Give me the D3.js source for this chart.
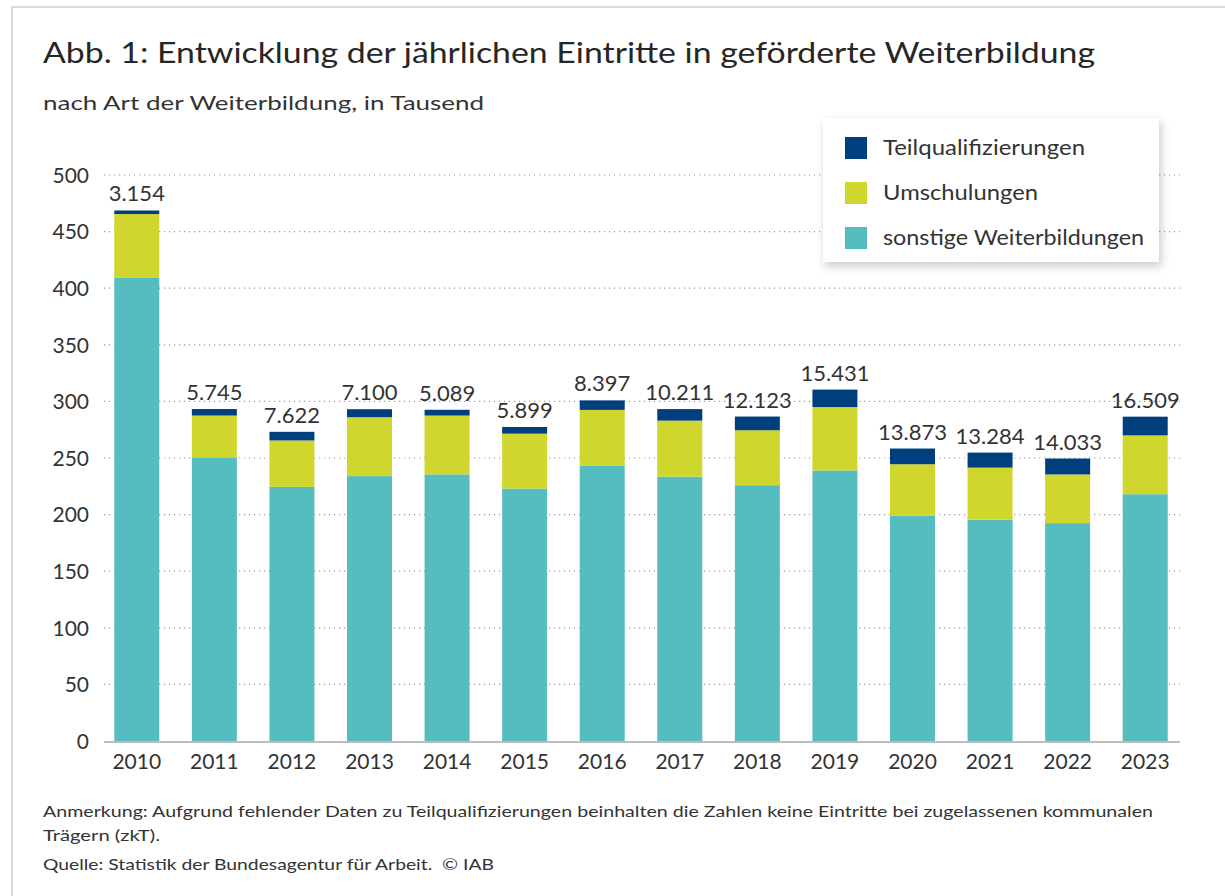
<!DOCTYPE html>
<html>
<head>
<meta charset="utf-8">
<script src="https://d3js.org/d3.v7.min.js"></script>
<style>
  body { margin: 0; background: #fff; }
  svg { display: block; font-family: Lato, "Open Sans", sans-serif; }
</style>
</head>
<body>
<div id="chart"></div>
<script>
// Daten (in Tausend)
var years = ["2010", "2011", "2012", "2013", "2014", "2015", "2016", "2017", "2018", "2019", "2020", "2021", "2022", "2023"];
var sonstige = [409.5, 250, 224.5, 234, 235.5, 223, 243, 233.5, 226, 239, 199, 195.5, 192.5, 218];
var umschulungen = [56, 37.5, 41, 52, 52, 48.5, 49.5, 49.5, 48.5, 56, 45.5, 46, 43, 52];
var teilqual = [3.154, 5.745, 7.622, 7.100, 5.089, 5.899, 8.397, 10.211, 12.123, 15.431, 13.873, 13.284, 14.033, 16.509];
var yTicks = [0, 50, 100, 150, 200, 250, 300, 350, 400, 450, 500];
var seriesNames = ["sonstige Weiterbildungen", "Umschulungen", "Teilqualifizierungen"];
var seriesColors = ["#55bdc0", "#cfd72e", "#003f7e"];

var W = 1225, H = 896;
var textColor = "#333";

var svg = d3.select("#chart").append("svg")
    .attr("width", W)
    .attr("height", H);

// Schatten für die Legende
var defs = svg.append("defs");
var filter = defs.append("filter").attr("id", "shadow")
    .attr("x", "-10%").attr("y", "-10%").attr("width", "125%").attr("height", "135%");
filter.append("feDropShadow")
    .attr("dx", 2).attr("dy", 4).attr("stdDeviation", 5)
    .attr("flood-color", "#000").attr("flood-opacity", 0.22);

// Rahmen
svg.append("rect")
    .attr("x", 12).attr("y", 7)
    .attr("width", W + 10).attr("height", H + 10)
    .attr("fill", "none").attr("stroke", "#d0d0d0").attr("stroke-width", 1.5);

// Titel
svg.append("text")
    .attr("x", 43).attr("y", 63)
    .attr("font-size", 29).attr("fill", "#262626")
    .attr("textLength", 1052).attr("lengthAdjust", "spacingAndGlyphs")
    .text("Abb. 1: Entwicklung der jährlichen Eintritte in geförderte Weiterbildung");
svg.append("text")
    .attr("x", 43).attr("y", 110)
    .attr("font-size", 20).attr("fill", textColor)
    .attr("textLength", 441).attr("lengthAdjust", "spacingAndGlyphs")
    .text("nach Art der Weiterbildung, in Tausend");

// Skalen
var x = d3.scaleBand()
    .domain(years)
    .range([98, 1184])
    .paddingInner(0.42)
    .paddingOuter(0.21);

var y = d3.scaleLinear()
    .domain([0, 500])
    .range([741, 175]);

// Gitterlinien
svg.append("g")
    .selectAll("line")
    .data(yTicks.filter(function (d) { return d > 0; }))
    .enter()
    .append("line")
    .attr("x1", 104).attr("x2", 1180)
    .attr("y1", function (d) { return y(d); })
    .attr("y2", function (d) { return y(d); })
    .attr("stroke", "#9a9a9a")
    .attr("stroke-width", 1.2)
    .attr("stroke-dasharray", "1.2,3.8");

// Y-Achse
var yAxis = svg.append("g")
    .attr("transform", "translate(89,0)")
    .call(d3.axisLeft(y).tickValues(yTicks).tickSize(0).tickPadding(0));
yAxis.select(".domain").remove();
yAxis.selectAll("text")
    .attr("font-family", "Lato, sans-serif")
    .attr("font-size", 21)
    .attr("fill", textColor)
    .attr("dy", "0.35em");

// gestapelte Daten
var table = years.map(function (yr, i) {
    return {
        year: yr,
        "sonstige Weiterbildungen": sonstige[i],
        "Umschulungen": umschulungen[i],
        "Teilqualifizierungen": teilqual[i]
    };
});
var stack = d3.stack().keys(seriesNames);
var stacked = stack(table);

svg.append("g")
    .selectAll("g")
    .data(stacked)
    .enter()
    .append("g")
    .attr("fill", function (d, i) { return seriesColors[i]; })
    .selectAll("rect")
    .data(function (d) { return d; })
    .enter()
    .append("rect")
    .attr("x", function (d) { return x(d.data.year); })
    .attr("y", function (d) { return y(d[1]); })
    .attr("width", x.bandwidth())
    .attr("height", function (d) { return y(d[0]) - y(d[1]); });

// X-Achse
svg.append("line")
    .attr("x1", 104).attr("x2", 1180)
    .attr("y1", 742).attr("y2", 742)
    .attr("stroke", "#bdbdbd").attr("stroke-width", 2);

var xAxis = svg.append("g")
    .attr("transform", "translate(0,742)")
    .call(d3.axisBottom(x).tickSize(0).tickPadding(0));
xAxis.select(".domain").remove();
xAxis.selectAll("text")
    .attr("font-family", "Lato, sans-serif")
    .attr("font-size", 21)
    .attr("fill", textColor)
    .attr("dy", "27");

// Beschriftung Teilqualifizierungen
var de = d3.formatLocale({ decimal: ",", thousands: ".", grouping: [3], currency: ["", " €"] });
var fmt = de.format(",d");
var topLayer = stacked[stacked.length - 1];
svg.append("g")
    .selectAll("text")
    .data(topLayer)
    .enter()
    .append("text")
    .attr("x", function (d) { return x(d.data.year) + x.bandwidth() / 2; })
    .attr("y", function (d) { return y(d[1]) - 9; })
    .attr("text-anchor", "middle")
    .attr("font-size", 22)
    .attr("fill", textColor)
    .text(function (d) { return fmt(Math.round(d.data["Teilqualifizierungen"] * 1000)); });

// Legende
var legend = svg.append("g").attr("transform", "translate(823,118)");
legend.append("rect")
    .attr("width", 336).attr("height", 144)
    .attr("fill", "#fff")
    .attr("filter", "url(#shadow)");
var legendOrder = [2, 1, 0];
var legendWidths = [202, 155, 261];
legendOrder.forEach(function (s, i) {
    legend.append("rect")
        .attr("x", 22).attr("y", 19 + i * 45)
        .attr("width", 22).attr("height", 22)
        .attr("fill", seriesColors[s]);
    legend.append("text")
        .attr("x", 60).attr("y", 37 + i * 45)
        .attr("font-size", 21)
        .attr("fill", textColor)
        .attr("textLength", legendWidths[i]).attr("lengthAdjust", "spacingAndGlyphs")
        .text(seriesNames[s]);
});

// Fußnoten
var notes = [
    { t: "Anmerkung: Aufgrund fehlender Daten zu Teilqualifizierungen beinhalten die Zahlen keine Eintritte bei zugelassenen kommunalen", y: 817, w: 1110 },
    { t: "Trägern (zkT).", y: 841, w: 117 },
    { t: "Quelle: Statistik der Bundesagentur für Arbeit.  © IAB", y: 870, w: 451 }
];
svg.append("g")
    .selectAll("text")
    .data(notes)
    .enter()
    .append("text")
    .attr("x", 43)
    .attr("y", function (d) { return d.y; })
    .attr("font-size", 16)
    .attr("fill", textColor)
    .attr("textLength", function (d) { return d.w; })
    .attr("lengthAdjust", "spacingAndGlyphs")
    .attr("xml:space", "preserve")
    .text(function (d) { return d.t; });
</script>
</body>
</html>
